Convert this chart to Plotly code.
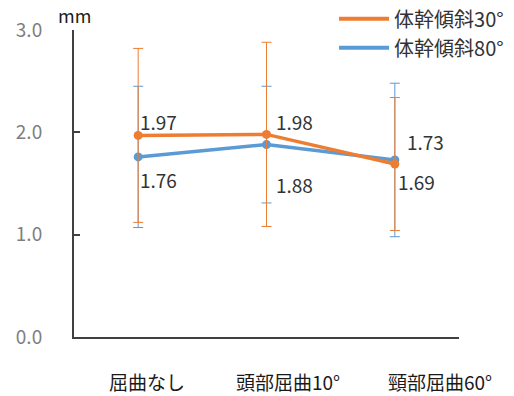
import plotly.graph_objects as go

# Conditions and measured means (mm) with standard deviations
categories = ["屈曲なし", "頭部屈曲10°", "頸部屈曲60°"]
series_names = ["体幹傾斜30°", "体幹傾斜80°"]
mean_30 = [1.97, 1.98, 1.69]
sd_30 = [0.85, 0.90, 0.65]
mean_80 = [1.76, 1.88, 1.73]
sd_80 = [0.69, 0.57, 0.75]
y_ticks = [0.0, 1.0, 2.0, 3.0]
y_tick_text = ["0.0", "1.0", "2.0", "3.0"]

ORANGE = "#ED7D31"
BLUE = "#5B9BD5"
FONT = "Noto Sans CJK JP"

fig = go.Figure()

# 80° series underneath, 30° series on top
for name, mean, sd, color in [
    (series_names[1], mean_80, sd_80, BLUE),
    (series_names[0], mean_30, sd_30, ORANGE),
]:
    fig.add_trace(go.Scatter(
        x=categories, y=mean, mode="lines+markers", name=name,
        line=dict(color=color, width=3.5),
        marker=dict(color=color, size=9),
        error_y=dict(type="data", array=sd, visible=True,
                     color=color, thickness=1, width=5),
        showlegend=False,
    ))

# Legend entries drawn as plain line samples
for name, color in [(series_names[0], ORANGE), (series_names[1], BLUE)]:
    fig.add_trace(go.Scatter(
        x=[None], y=[None], mode="lines", name=name,
        line=dict(color=color, width=4), showlegend=True,
    ))

# Value labels: 30° above, 80° below (per-point offsets)
label_offsets_30 = [(0, 14), (7, 13), (1, -17)]
label_offsets_80 = [(0, -23), (7, -40), (10, 18)]
for mean, offs in [(mean_30, label_offsets_30), (mean_80, label_offsets_80)]:
    for cat, val, (dx, dy) in zip(categories, mean, offs):
        fig.add_annotation(
            x=cat, y=val, text=f"{val:.2f}", showarrow=False,
            xanchor="left", yanchor="middle", xshift=dx, yshift=dy,
            font=dict(family=FONT, size=19, color="#333333"),
        )

# Category labels below the axis
cat_shifts = [9, 21, 45]
for cat, dx in zip(categories, cat_shifts):
    fig.add_annotation(
        x=cat, y=0, yref="y", text=cat, showarrow=False,
        xanchor="center", yanchor="middle", xshift=dx, yshift=-44,
        borderpad=0,
        font=dict(family=FONT, size=19, color="#1a1a1a"),
    )

# Unit label
fig.add_annotation(
    x=0, y=1, xref="paper", yref="paper", text="mm", showarrow=False,
    xanchor="left", yanchor="bottom", xshift=-18, yshift=0,
    font=dict(family=FONT, size=18, color="#1a1a1a"),
)

fig.update_layout(
    width=514, height=396,
    margin=dict(l=74, r=55, t=30, b=59, autoexpand=False),
    paper_bgcolor="white", plot_bgcolor="white",
    showlegend=True,
    legend=dict(
        x=1.13, y=1.1, xanchor="right", yanchor="top",
        font=dict(family=FONT, size=20, color="#333333"),
        bgcolor="rgba(0,0,0,0)", itemwidth=50, tracegroupgap=0,
    ),
    xaxis=dict(
        type="category", range=[-0.5, 2.5],
        showticklabels=False, ticks="",
        showline=True, linecolor="#404040", linewidth=2,
        showgrid=False, zeroline=False,
    ),
    yaxis=dict(
        range=[0, 3], tickvals=y_ticks, ticktext=y_tick_text,
        ticks="inside", ticklen=6, tickcolor="#404040", tickwidth=2,
        showline=True, linecolor="#404040", linewidth=2,
        showgrid=False, zeroline=False,
        ticklabelstandoff=26,
        tickfont=dict(family=FONT, size=19, color="#7f7f7f"),
    ),
)

fig.write_html("out.html")
